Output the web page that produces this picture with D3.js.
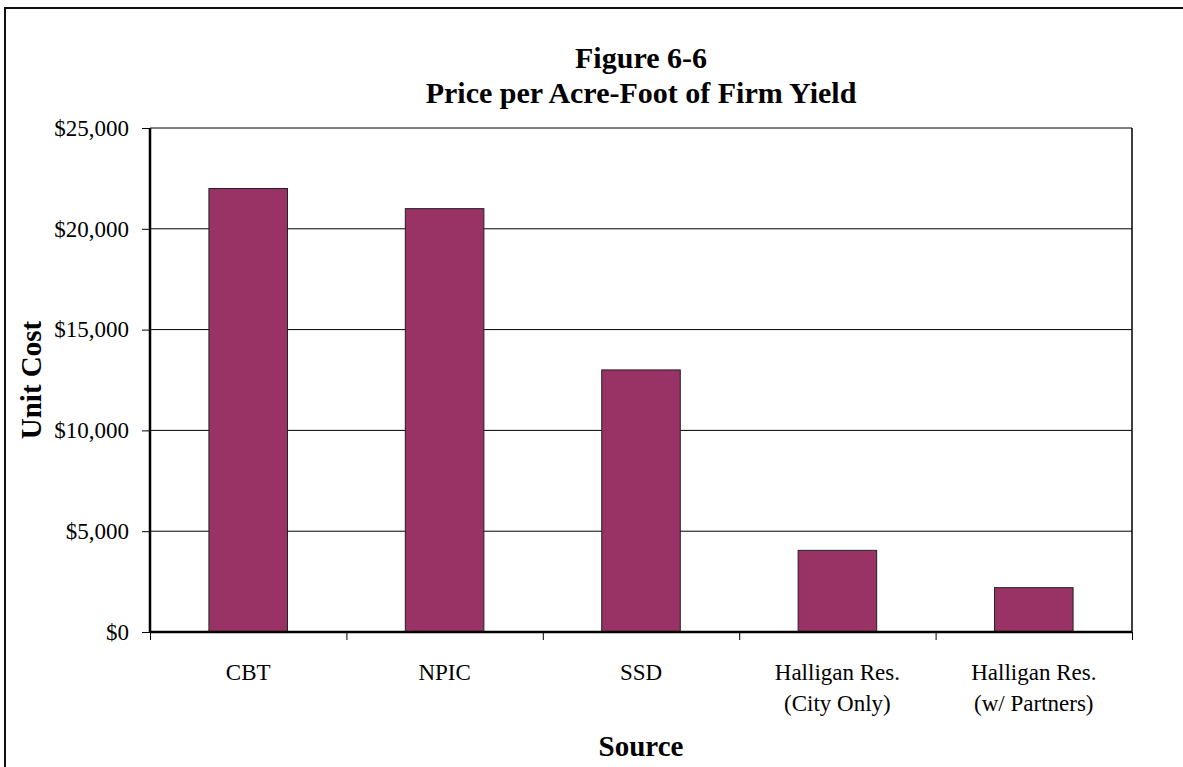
<!DOCTYPE html>
<html>
<head>
<meta charset="utf-8">
<script src="https://cdn.jsdelivr.net/npm/d3@7"></script>
<style>
  body { margin: 0; background: #fff; }
  text { font-family: "Liberation Serif", "Times New Roman", serif; fill: #000; }
</style>
</head>
<body>
<div id="chart"></div>
<script>
// Data
const categories = ["CBT", "NPIC", "SSD", "Halligan Res.\n(City Only)", "Halligan Res.\n(w/ Partners)"];
const unitCost = [22000, 21000, 13000, 4050, 2200];
const yTicks = [0, 5000, 10000, 15000, 20000, 25000];
const titleLines = ["Figure 6-6", "Price per Acre-Foot of Firm Yield"];

const W = 1183, H = 767;
const margin = { top: 128, right: 51, bottom: 135, left: 150 };
const width = W - margin.left - margin.right;
const height = H - margin.top - margin.bottom;

const svg = d3.select('#chart')
  .append('svg')
  .attr('width', W)
  .attr('height', H);

// outer chart frame (runs off the page on the right and bottom)
svg.append('rect')
  .attr('x', 5).attr('y', 8)
  .attr('width', W + 20).attr('height', H + 20)
  .attr('fill', 'none')
  .attr('stroke', '#111')
  .attr('stroke-width', 2);

// title
svg.append('text')
  .attr('x', margin.left + width / 2)
  .attr('text-anchor', 'middle')
  .style('font-weight', 'bold')
  .style('font-size', '30px')
  .selectAll('tspan')
  .data(titleLines)
  .enter()
  .append('tspan')
  .attr('x', margin.left + width / 2)
  .attr('y', (d, i) => 68 + i * 35)
  .text(d => d);

const g = svg.append('g')
  .attr('transform', `translate(${margin.left},${margin.top})`);

// scales
const x = d3.scaleBand()
  .domain(categories)
  .range([0, width])
  .paddingInner(0.6)
  .paddingOuter(0.3);

const y = d3.scaleLinear()
  .domain([0, 25000])
  .range([height, 0]);

// gridlines
g.selectAll('.grid')
  .data(yTicks.filter(d => d > 0))
  .enter()
  .append('line')
  .attr('class', 'grid')
  .attr('x1', 0).attr('x2', width)
  .attr('y1', d => y(d)).attr('y2', d => y(d))
  .attr('stroke', '#000')
  .attr('stroke-width', 1);

// right border of plot area
g.append('line')
  .attr('x1', width).attr('x2', width)
  .attr('y1', 0).attr('y2', height)
  .attr('stroke', '#000')
  .attr('stroke-width', 1.5);

// bars
g.selectAll('.bar')
  .data(categories)
  .enter()
  .append('rect')
  .attr('class', 'bar')
  .attr('x', d => x(d))
  .attr('y', (d, i) => y(unitCost[i]))
  .attr('width', x.bandwidth())
  .attr('height', (d, i) => height - y(unitCost[i]))
  .attr('fill', '#993366')
  .attr('stroke', '#222')
  .attr('stroke-width', 1);

// y axis
const yAxis = g.append('g')
  .call(d3.axisLeft(y)
    .tickValues(yTicks)
    .tickSize(8)
    .tickPadding(13)
    .tickFormat(d3.format('$,')));
yAxis.select('.domain').attr('stroke-width', 2.5).attr('d', `M0,0V${height}`);
yAxis.selectAll('.tick line').attr('stroke-width', 1);
yAxis.selectAll('text')
  .style('font-size', '23px')
  .style('font-family', '"Liberation Serif", serif');

// x axis: ticks sit on the category boundaries
const xb = d3.scaleLinear().domain([0, categories.length]).range([0, width]);
const xAxis = g.append('g')
  .attr('transform', `translate(0,${height})`)
  .call(d3.axisBottom(xb)
    .ticks(categories.length)
    .tickSize(8)
    .tickFormat(''));
xAxis.select('.domain').attr('stroke-width', 2.5).attr('d', `M0,0H${width}`);

// category labels
const labels = g.selectAll('.cat')
  .data(categories)
  .enter()
  .append('text')
  .attr('class', 'cat')
  .attr('text-anchor', 'middle')
  .style('font-size', '23px');

labels.selectAll('tspan')
  .data(d => d.split('\n').map(t => ({ t, c: d })))
  .enter()
  .append('tspan')
  .attr('x', d => x(d.c) + x.bandwidth() / 2)
  .attr('y', (d, i) => height + 48 + i * 31)
  .text(d => d.t);

// axis titles
svg.append('text')
  .attr('transform', `translate(41,${margin.top + height / 2}) rotate(-90)`)
  .attr('text-anchor', 'middle')
  .style('font-weight', 'bold')
  .style('font-size', '29px')
  .text('Unit Cost');

svg.append('text')
  .attr('x', margin.left + width / 2)
  .attr('y', 756)
  .attr('text-anchor', 'middle')
  .style('font-weight', 'bold')
  .style('font-size', '29px')
  .text('Source');
</script>
</body>
</html>
